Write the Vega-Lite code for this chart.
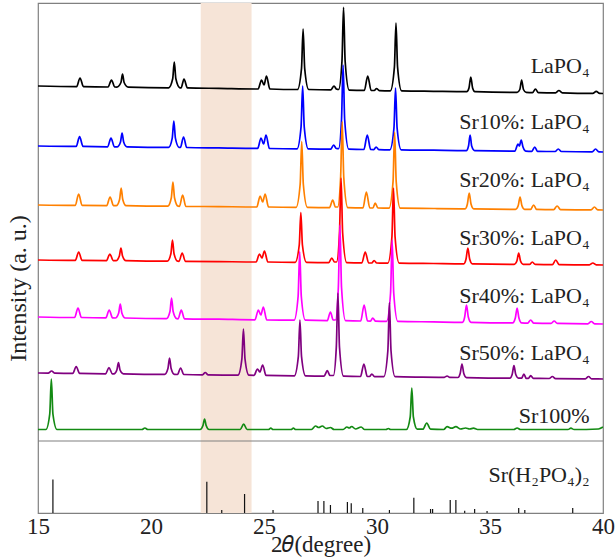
{
"$schema": "https://vega.github.io/schema/vega-lite/v6.json",
"width": 565, "height": 510,
"autosize": {"type": "none"},
"padding": {"left": 38, "top": 3, "right": 13, "bottom": 45},
"background": "white",
"datasets": {
"series": [
{"s":"LaPO4","x":15,"y":355},{"s":"LaPO4","x":16.71,"y":354.4},{"s":"LaPO4","x":16.86,"y":363},{"s":"LaPO4","x":17.01,"y":354.4},
{"s":"LaPO4","x":18.1,"y":354},{"s":"LaPO4","x":18.25,"y":361},{"s":"LaPO4","x":18.4,"y":354},
{"s":"LaPO4","x":18.49,"y":353.9},{"s":"LaPO4","x":18.67,"y":358.5},{"s":"LaPO4","x":18.74,"y":367},{"s":"LaPO4","x":18.81,"y":358.5},{"s":"LaPO4","x":18.99,"y":353.9},
{"s":"LaPO4","x":20.78,"y":353.2},{"s":"LaPO4","x":20.96,"y":362.2},{"s":"LaPO4","x":21.03,"y":379},{"s":"LaPO4","x":21.1,"y":362.2},{"s":"LaPO4","x":21.28,"y":353.2},
{"s":"LaPO4","x":21.33,"y":353.1},{"s":"LaPO4","x":21.46,"y":362},{"s":"LaPO4","x":21.61,"y":353.1},
{"s":"LaPO4","x":23,"y":352.6},
{"s":"LaPO4","x":24.74,"y":352},{"s":"LaPO4","x":24.89,"y":361},{"s":"LaPO4","x":25.0,"y":356},{"s":"LaPO4","x":25.11,"y":365},{"s":"LaPO4","x":25.26,"y":352},
{"s":"LaPO4","x":26.48,"y":351.5},{"s":"LaPO4","x":26.66,"y":372.7},{"s":"LaPO4","x":26.73,"y":412},{"s":"LaPO4","x":26.8,"y":372.7},{"s":"LaPO4","x":26.98,"y":351.5},
{"s":"LaPO4","x":27.95,"y":351.1},{"s":"LaPO4","x":28.1,"y":355},{"s":"LaPO4","x":28.2,"y":352},
{"s":"LaPO4","x":28.3,"y":351.5},{"s":"LaPO4","x":28.45,"y":379.9},{"s":"LaPO4","x":28.52,"y":433.7},{"s":"LaPO4","x":28.59,"y":379.9},{"s":"LaPO4","x":28.77,"y":350.9},
{"s":"LaPO4","x":29.44,"y":350.6},{"s":"LaPO4","x":29.59,"y":365},{"s":"LaPO4","x":29.74,"y":350.6},
{"s":"LaPO4","x":29.88,"y":350.5},{"s":"LaPO4","x":29.98,"y":352.5},{"s":"LaPO4","x":30.1,"y":350.4},
{"s":"LaPO4","x":30.59,"y":350.2},{"s":"LaPO4","x":30.77,"y":373.9},{"s":"LaPO4","x":30.84,"y":418},{"s":"LaPO4","x":30.91,"y":373.9},{"s":"LaPO4","x":31.09,"y":350.2},
{"s":"LaPO4","x":32.5,"y":349.7},
{"s":"LaPO4","x":33.97,"y":349.3},{"s":"LaPO4","x":34.07,"y":353},{"s":"LaPO4","x":34.15,"y":364},{"s":"LaPO4","x":34.23,"y":353},{"s":"LaPO4","x":34.33,"y":349.3},
{"s":"LaPO4","x":36.2,"y":348.6},{"s":"LaPO4","x":36.32,"y":351.5},{"s":"LaPO4","x":36.4,"y":361},{"s":"LaPO4","x":36.48,"y":351.5},{"s":"LaPO4","x":36.6,"y":348.6},
{"s":"LaPO4","x":36.88,"y":348.4},{"s":"LaPO4","x":37.01,"y":352},{"s":"LaPO4","x":37.14,"y":348.4},
{"s":"LaPO4","x":37.9,"y":348.1},{"s":"LaPO4","x":38.05,"y":350.5},{"s":"LaPO4","x":38.2,"y":348.1},
{"s":"LaPO4","x":39.55,"y":347.6},{"s":"LaPO4","x":39.7,"y":349.7},{"s":"LaPO4","x":39.85,"y":347.6},{"s":"LaPO4","x":40,"y":347.5},

{"s":"Sr10","x":15,"y":295},{"s":"Sr10","x":16.69,"y":294.6},{"s":"Sr10","x":16.84,"y":304.3},{"s":"Sr10","x":16.99,"y":294.6},
{"s":"Sr10","x":18.08,"y":294.2},{"s":"Sr10","x":18.23,"y":303},{"s":"Sr10","x":18.38,"y":294.2},
{"s":"Sr10","x":18.5,"y":294.1},{"s":"Sr10","x":18.65,"y":299},{"s":"Sr10","x":18.72,"y":308},{"s":"Sr10","x":18.79,"y":299},{"s":"Sr10","x":18.94,"y":294.1},
{"s":"Sr10","x":20.78,"y":293.6},{"s":"Sr10","x":20.94,"y":302.8},{"s":"Sr10","x":21.01,"y":320},{"s":"Sr10","x":21.08,"y":302.8},{"s":"Sr10","x":21.24,"y":293.6},
{"s":"Sr10","x":21.3,"y":293.5},{"s":"Sr10","x":21.44,"y":304},{"s":"Sr10","x":21.58,"y":293.5},
{"s":"Sr10","x":23,"y":293.1},
{"s":"Sr10","x":24.72,"y":292.6},{"s":"Sr10","x":24.87,"y":303},{"s":"Sr10","x":24.98,"y":297},{"s":"Sr10","x":25.09,"y":306},{"s":"Sr10","x":25.24,"y":292.5},
{"s":"Sr10","x":26.46,"y":292.2},{"s":"Sr10","x":26.64,"y":314.2},{"s":"Sr10","x":26.71,"y":355},{"s":"Sr10","x":26.78,"y":314.2},{"s":"Sr10","x":26.96,"y":292.2},
{"s":"Sr10","x":27.95,"y":291.9},{"s":"Sr10","x":28.08,"y":296},{"s":"Sr10","x":28.2,"y":292.5},
{"s":"Sr10","x":28.3,"y":292.3},{"s":"Sr10","x":28.43,"y":321.2},{"s":"Sr10","x":28.5,"y":376},{"s":"Sr10","x":28.57,"y":321.2},{"s":"Sr10","x":28.75,"y":291.8},
{"s":"Sr10","x":29.42,"y":291.5},{"s":"Sr10","x":29.57,"y":306},{"s":"Sr10","x":29.72,"y":291.5},
{"s":"Sr10","x":29.86,"y":291.4},{"s":"Sr10","x":29.96,"y":294},{"s":"Sr10","x":30.08,"y":291.4},
{"s":"Sr10","x":30.57,"y":291.2},{"s":"Sr10","x":30.75,"y":312.8},{"s":"Sr10","x":30.82,"y":353},{"s":"Sr10","x":30.89,"y":312.8},{"s":"Sr10","x":31.07,"y":291.2},
{"s":"Sr10","x":32.5,"y":290.8},
{"s":"Sr10","x":33.95,"y":290.4},{"s":"Sr10","x":34.05,"y":295},{"s":"Sr10","x":34.12,"y":306},{"s":"Sr10","x":34.19,"y":295},{"s":"Sr10","x":34.32,"y":290.4},
{"s":"Sr10","x":36.1,"y":289.9},{"s":"Sr10","x":36.24,"y":297},{"s":"Sr10","x":36.3,"y":295},{"s":"Sr10","x":36.38,"y":301},{"s":"Sr10","x":36.46,"y":294},{"s":"Sr10","x":36.58,"y":289.9},
{"s":"Sr10","x":36.85,"y":289.7},{"s":"Sr10","x":36.98,"y":294},{"s":"Sr10","x":37.1,"y":289.7},
{"s":"Sr10","x":37.88,"y":289.5},{"s":"Sr10","x":38.02,"y":292},{"s":"Sr10","x":38.16,"y":289.5},
{"s":"Sr10","x":39.52,"y":289.1},{"s":"Sr10","x":39.67,"y":292},{"s":"Sr10","x":39.82,"y":289.1},{"s":"Sr10","x":40,"y":289},

{"s":"Sr20","x":15,"y":236},{"s":"Sr20","x":16.65,"y":235.6},{"s":"Sr20","x":16.8,"y":247},{"s":"Sr20","x":16.95,"y":235.6},
{"s":"Sr20","x":18.04,"y":235.4},{"s":"Sr20","x":18.19,"y":244},{"s":"Sr20","x":18.34,"y":235.4},
{"s":"Sr20","x":18.46,"y":235.3},{"s":"Sr20","x":18.61,"y":241.5},{"s":"Sr20","x":18.68,"y":253},{"s":"Sr20","x":18.75,"y":241.5},{"s":"Sr20","x":18.9,"y":235.3},
{"s":"Sr20","x":20.74,"y":234.8},{"s":"Sr20","x":20.9,"y":243.3},{"s":"Sr20","x":20.97,"y":259},{"s":"Sr20","x":21.04,"y":243.3},{"s":"Sr20","x":21.2,"y":234.8},
{"s":"Sr20","x":21.26,"y":234.7},{"s":"Sr20","x":21.4,"y":246},{"s":"Sr20","x":21.54,"y":234.7},
{"s":"Sr20","x":23,"y":234.4},
{"s":"Sr20","x":24.68,"y":234},{"s":"Sr20","x":24.83,"y":245},{"s":"Sr20","x":24.94,"y":239},{"s":"Sr20","x":25.05,"y":247},{"s":"Sr20","x":25.2,"y":234},
{"s":"Sr20","x":26.42,"y":233.7},{"s":"Sr20","x":26.6,"y":256.7},{"s":"Sr20","x":26.67,"y":299.3},{"s":"Sr20","x":26.74,"y":256.7},{"s":"Sr20","x":26.92,"y":233.7},
{"s":"Sr20","x":27.9,"y":233.4},{"s":"Sr20","x":28.04,"y":241},{"s":"Sr20","x":28.16,"y":234},
{"s":"Sr20","x":28.26,"y":234},{"s":"Sr20","x":28.39,"y":263.4},{"s":"Sr20","x":28.46,"y":319.3},{"s":"Sr20","x":28.53,"y":263.4},{"s":"Sr20","x":28.71,"y":233.3},
{"s":"Sr20","x":29.38,"y":233.1},{"s":"Sr20","x":29.53,"y":249},{"s":"Sr20","x":29.68,"y":233.1},
{"s":"Sr20","x":29.82,"y":233},{"s":"Sr20","x":29.92,"y":238},{"s":"Sr20","x":30.04,"y":233},
{"s":"Sr20","x":30.53,"y":232.8},{"s":"Sr20","x":30.71,"y":259.4},{"s":"Sr20","x":30.78,"y":309},{"s":"Sr20","x":30.85,"y":259.4},{"s":"Sr20","x":31.03,"y":232.8},
{"s":"Sr20","x":32.5,"y":232.5},
{"s":"Sr20","x":33.9,"y":232.2},{"s":"Sr20","x":34.0,"y":237},{"s":"Sr20","x":34.08,"y":248},{"s":"Sr20","x":34.16,"y":237},{"s":"Sr20","x":34.28,"y":232.2},
{"s":"Sr20","x":36.13,"y":231.7},{"s":"Sr20","x":36.25,"y":235.5},{"s":"Sr20","x":36.33,"y":244},{"s":"Sr20","x":36.41,"y":235.5},{"s":"Sr20","x":36.53,"y":231.7},
{"s":"Sr20","x":36.8,"y":231.6},{"s":"Sr20","x":36.93,"y":236},{"s":"Sr20","x":37.06,"y":231.6},
{"s":"Sr20","x":37.82,"y":231.4},{"s":"Sr20","x":37.97,"y":235},{"s":"Sr20","x":38.12,"y":231.4},
{"s":"Sr20","x":39.47,"y":231.1},{"s":"Sr20","x":39.62,"y":234},{"s":"Sr20","x":39.77,"y":231.1},{"s":"Sr20","x":40,"y":231},

{"s":"Sr30","x":15,"y":181},{"s":"Sr30","x":16.65,"y":180.6},{"s":"Sr30","x":16.8,"y":189},{"s":"Sr30","x":16.95,"y":180.6},
{"s":"Sr30","x":18.03,"y":180.4},{"s":"Sr30","x":18.18,"y":187},{"s":"Sr30","x":18.33,"y":180.4},
{"s":"Sr30","x":18.45,"y":180.3},{"s":"Sr30","x":18.6,"y":185},{"s":"Sr30","x":18.67,"y":193},{"s":"Sr30","x":18.74,"y":185},{"s":"Sr30","x":18.89,"y":180.3},
{"s":"Sr30","x":20.72,"y":179.8},{"s":"Sr30","x":20.88,"y":187.2},{"s":"Sr30","x":20.95,"y":201},{"s":"Sr30","x":21.02,"y":187.2},{"s":"Sr30","x":21.18,"y":179.8},
{"s":"Sr30","x":21.24,"y":179.7},{"s":"Sr30","x":21.38,"y":188},{"s":"Sr30","x":21.52,"y":179.7},
{"s":"Sr30","x":23,"y":179.4},
{"s":"Sr30","x":24.65,"y":179},{"s":"Sr30","x":24.8,"y":187},{"s":"Sr30","x":24.91,"y":183},{"s":"Sr30","x":25.02,"y":190},{"s":"Sr30","x":25.17,"y":179},
{"s":"Sr30","x":26.38,"y":178.7},{"s":"Sr30","x":26.56,"y":196},{"s":"Sr30","x":26.63,"y":228.3},{"s":"Sr30","x":26.7,"y":196},{"s":"Sr30","x":26.88,"y":178.7},
{"s":"Sr30","x":27.86,"y":178.4},{"s":"Sr30","x":28.0,"y":183},{"s":"Sr30","x":28.12,"y":179},
{"s":"Sr30","x":28.21,"y":179},{"s":"Sr30","x":28.34,"y":208},{"s":"Sr30","x":28.41,"y":263},{"s":"Sr30","x":28.48,"y":208},{"s":"Sr30","x":28.66,"y":178.3},
{"s":"Sr30","x":29.33,"y":178.1},{"s":"Sr30","x":29.48,"y":189},{"s":"Sr30","x":29.63,"y":178.1},
{"s":"Sr30","x":29.77,"y":178},{"s":"Sr30","x":29.87,"y":180.5},{"s":"Sr30","x":29.99,"y":178},
{"s":"Sr30","x":30.48,"y":177.9},{"s":"Sr30","x":30.66,"y":204},{"s":"Sr30","x":30.73,"y":253},{"s":"Sr30","x":30.8,"y":204},{"s":"Sr30","x":30.98,"y":177.9},
{"s":"Sr30","x":32.5,"y":177.5},
{"s":"Sr30","x":33.84,"y":177.2},{"s":"Sr30","x":33.94,"y":182},{"s":"Sr30","x":34.02,"y":193},{"s":"Sr30","x":34.1,"y":182},{"s":"Sr30","x":34.22,"y":177.2},
{"s":"Sr30","x":36.07,"y":176.7},{"s":"Sr30","x":36.19,"y":180},{"s":"Sr30","x":36.27,"y":188},{"s":"Sr30","x":36.35,"y":180},{"s":"Sr30","x":36.47,"y":176.7},
{"s":"Sr30","x":36.75,"y":176.6},{"s":"Sr30","x":36.87,"y":179},{"s":"Sr30","x":37.0,"y":176.6},
{"s":"Sr30","x":37.76,"y":176.4},{"s":"Sr30","x":37.91,"y":181},{"s":"Sr30","x":38.06,"y":176.4},
{"s":"Sr30","x":39.4,"y":176.1},{"s":"Sr30","x":39.55,"y":178},{"s":"Sr30","x":39.7,"y":176.1},{"s":"Sr30","x":40,"y":176},

{"s":"Sr40","x":15,"y":124},{"s":"Sr40","x":16.62,"y":123.5},{"s":"Sr40","x":16.77,"y":133},{"s":"Sr40","x":16.92,"y":123.5},
{"s":"Sr40","x":18.0,"y":123.1},{"s":"Sr40","x":18.15,"y":131},{"s":"Sr40","x":18.3,"y":123.1},
{"s":"Sr40","x":18.42,"y":123},{"s":"Sr40","x":18.57,"y":128},{"s":"Sr40","x":18.64,"y":137},{"s":"Sr40","x":18.71,"y":128},{"s":"Sr40","x":18.86,"y":123},
{"s":"Sr40","x":20.68,"y":122.3},{"s":"Sr40","x":20.84,"y":129.5},{"s":"Sr40","x":20.91,"y":143},{"s":"Sr40","x":20.98,"y":129.5},{"s":"Sr40","x":21.14,"y":122.3},
{"s":"Sr40","x":21.2,"y":122.2},{"s":"Sr40","x":21.34,"y":131},{"s":"Sr40","x":21.48,"y":122.2},
{"s":"Sr40","x":23,"y":121.8},
{"s":"Sr40","x":24.6,"y":121.2},{"s":"Sr40","x":24.75,"y":131},{"s":"Sr40","x":24.86,"y":126},{"s":"Sr40","x":24.97,"y":134},{"s":"Sr40","x":25.12,"y":121.2},
{"s":"Sr40","x":26.33,"y":120.8},{"s":"Sr40","x":26.51,"y":144.8},{"s":"Sr40","x":26.58,"y":189.3},{"s":"Sr40","x":26.65,"y":144.8},{"s":"Sr40","x":26.83,"y":120.8},
{"s":"Sr40","x":27.8,"y":120.4},{"s":"Sr40","x":27.94,"y":129},{"s":"Sr40","x":28.06,"y":121},
{"s":"Sr40","x":28.16,"y":121},{"s":"Sr40","x":28.29,"y":153.8},{"s":"Sr40","x":28.36,"y":216},{"s":"Sr40","x":28.43,"y":153.8},{"s":"Sr40","x":28.61,"y":120.3},
{"s":"Sr40","x":29.28,"y":120},{"s":"Sr40","x":29.43,"y":136},{"s":"Sr40","x":29.58,"y":120},
{"s":"Sr40","x":29.71,"y":119.9},{"s":"Sr40","x":29.81,"y":123},{"s":"Sr40","x":29.93,"y":119.9},
{"s":"Sr40","x":30.42,"y":119.6},{"s":"Sr40","x":30.6,"y":148},{"s":"Sr40","x":30.67,"y":201},{"s":"Sr40","x":30.74,"y":148},{"s":"Sr40","x":30.92,"y":119.6},
{"s":"Sr40","x":32.5,"y":119.1},
{"s":"Sr40","x":33.78,"y":118.7},{"s":"Sr40","x":33.88,"y":124},{"s":"Sr40","x":33.96,"y":136},{"s":"Sr40","x":34.04,"y":124},{"s":"Sr40","x":34.16,"y":118.7},
{"s":"Sr40","x":36.0,"y":118.1},{"s":"Sr40","x":36.12,"y":123},{"s":"Sr40","x":36.2,"y":133},{"s":"Sr40","x":36.28,"y":123},{"s":"Sr40","x":36.4,"y":118.1},
{"s":"Sr40","x":36.67,"y":117.9},{"s":"Sr40","x":36.8,"y":121},{"s":"Sr40","x":36.93,"y":117.9},
{"s":"Sr40","x":37.7,"y":117.6},{"s":"Sr40","x":37.84,"y":120},{"s":"Sr40","x":37.98,"y":117.6},
{"s":"Sr40","x":39.33,"y":117.2},{"s":"Sr40","x":39.48,"y":119.5},{"s":"Sr40","x":39.63,"y":117.2},{"s":"Sr40","x":40,"y":117},

{"s":"Sr50","x":15,"y":68},{"s":"Sr50","x":15.45,"y":67.9},{"s":"Sr50","x":15.6,"y":70},{"s":"Sr50","x":15.75,"y":67.8},
{"s":"Sr50","x":16.54,"y":67.6},{"s":"Sr50","x":16.69,"y":74.3},{"s":"Sr50","x":16.84,"y":67.6},
{"s":"Sr50","x":17.99,"y":67.2},{"s":"Sr50","x":18.14,"y":73.3},{"s":"Sr50","x":18.29,"y":67.2},
{"s":"Sr50","x":18.36,"y":67.1},{"s":"Sr50","x":18.49,"y":71},{"s":"Sr50","x":18.56,"y":78.3},{"s":"Sr50","x":18.63,"y":71},{"s":"Sr50","x":18.78,"y":67.1},
{"s":"Sr50","x":20.6,"y":66.6},{"s":"Sr50","x":20.75,"y":72.5},{"s":"Sr50","x":20.82,"y":83},{"s":"Sr50","x":20.89,"y":72.5},{"s":"Sr50","x":21.04,"y":66.6},
{"s":"Sr50","x":21.17,"y":66.5},{"s":"Sr50","x":21.31,"y":73},{"s":"Sr50","x":21.45,"y":66.5},
{"s":"Sr50","x":22.28,"y":66.2},{"s":"Sr50","x":22.4,"y":68.5},{"s":"Sr50","x":22.52,"y":66.2},
{"s":"Sr50","x":23.85,"y":65.8},{"s":"Sr50","x":24.02,"y":81.8},{"s":"Sr50","x":24.09,"y":112},{"s":"Sr50","x":24.16,"y":81.8},{"s":"Sr50","x":24.33,"y":65.8},
{"s":"Sr50","x":24.56,"y":65.7},{"s":"Sr50","x":24.71,"y":72},{"s":"Sr50","x":24.82,"y":69},{"s":"Sr50","x":24.94,"y":76},{"s":"Sr50","x":25.09,"y":65.6},
{"s":"Sr50","x":26.34,"y":65.2},{"s":"Sr50","x":26.52,"y":84.7},{"s":"Sr50","x":26.59,"y":121},{"s":"Sr50","x":26.66,"y":84.7},{"s":"Sr50","x":26.84,"y":65.2},
{"s":"Sr50","x":27.66,"y":64.9},{"s":"Sr50","x":27.8,"y":70.3},{"s":"Sr50","x":27.92,"y":65.5},
{"s":"Sr50","x":28.07,"y":65.5},{"s":"Sr50","x":28.2,"y":93.9},{"s":"Sr50","x":28.27,"y":148},{"s":"Sr50","x":28.34,"y":93.9},{"s":"Sr50","x":28.52,"y":64.8},
{"s":"Sr50","x":29.27,"y":64.5},{"s":"Sr50","x":29.42,"y":77},{"s":"Sr50","x":29.57,"y":64.5},
{"s":"Sr50","x":29.67,"y":64.5},{"s":"Sr50","x":29.77,"y":67},{"s":"Sr50","x":29.89,"y":64.4},
{"s":"Sr50","x":30.3,"y":64.3},{"s":"Sr50","x":30.48,"y":90.2},{"s":"Sr50","x":30.55,"y":138.3},{"s":"Sr50","x":30.62,"y":90.2},{"s":"Sr50","x":30.8,"y":64.3},
{"s":"Sr50","x":32,"y":63.9},
{"s":"Sr50","x":32.98,"y":63.7},{"s":"Sr50","x":33.1,"y":65},{"s":"Sr50","x":33.22,"y":63.6},
{"s":"Sr50","x":33.58,"y":63.5},{"s":"Sr50","x":33.68,"y":67.5},{"s":"Sr50","x":33.76,"y":77},{"s":"Sr50","x":33.84,"y":67.5},{"s":"Sr50","x":33.96,"y":63.4},
{"s":"Sr50","x":35.88,"y":62.9},{"s":"Sr50","x":35.98,"y":66.5},{"s":"Sr50","x":36.06,"y":75.3},{"s":"Sr50","x":36.14,"y":66.5},{"s":"Sr50","x":36.26,"y":62.9},
{"s":"Sr50","x":36.4,"y":62.8},{"s":"Sr50","x":36.5,"y":67},{"s":"Sr50","x":36.6,"y":62.7},
{"s":"Sr50","x":36.7,"y":62.7},{"s":"Sr50","x":36.8,"y":65.3},{"s":"Sr50","x":36.92,"y":62.6},
{"s":"Sr50","x":37.62,"y":62.5},{"s":"Sr50","x":37.76,"y":64.5},{"s":"Sr50","x":37.9,"y":62.4},
{"s":"Sr50","x":39.22,"y":62.2},{"s":"Sr50","x":39.36,"y":64.5},{"s":"Sr50","x":39.5,"y":62.1},{"s":"Sr50","x":40,"y":62},

{"s":"Sr100","x":15,"y":11.5},{"s":"Sr100","x":15.35,"y":11.5},{"s":"Sr100","x":15.52,"y":27},{"s":"Sr100","x":15.59,"y":62},{"s":"Sr100","x":15.66,"y":27},{"s":"Sr100","x":15.84,"y":11.5},
{"s":"Sr100","x":19.6,"y":11.5},{"s":"Sr100","x":19.73,"y":13},{"s":"Sr100","x":19.86,"y":11.5},
{"s":"Sr100","x":22.17,"y":11.5},{"s":"Sr100","x":22.3,"y":15.5},{"s":"Sr100","x":22.37,"y":22},{"s":"Sr100","x":22.44,"y":15.5},{"s":"Sr100","x":22.57,"y":11.5},
{"s":"Sr100","x":23.95,"y":11.5},{"s":"Sr100","x":24.1,"y":17},{"s":"Sr100","x":24.25,"y":11.5},
{"s":"Sr100","x":25.2,"y":11.5},{"s":"Sr100","x":25.3,"y":12.8},{"s":"Sr100","x":25.4,"y":11.5},
{"s":"Sr100","x":26.2,"y":11.5},{"s":"Sr100","x":26.3,"y":12.8},{"s":"Sr100","x":26.4,"y":11.5},
{"s":"Sr100","x":27.1,"y":11.5},{"s":"Sr100","x":27.28,"y":15},{"s":"Sr100","x":27.42,"y":13.5},{"s":"Sr100","x":27.58,"y":15},{"s":"Sr100","x":27.75,"y":12.5},{"s":"Sr100","x":27.94,"y":13.5},{"s":"Sr100","x":28.1,"y":11.5},
{"s":"Sr100","x":28.5,"y":11.5},{"s":"Sr100","x":28.67,"y":14},{"s":"Sr100","x":28.77,"y":13},{"s":"Sr100","x":28.88,"y":14.5},{"s":"Sr100","x":29.05,"y":12},{"s":"Sr100","x":29.3,"y":14},{"s":"Sr100","x":29.45,"y":11.5},
{"s":"Sr100","x":30.4,"y":11.5},{"s":"Sr100","x":30.5,"y":12.5},{"s":"Sr100","x":30.6,"y":11.5},
{"s":"Sr100","x":31.3,"y":11.5},{"s":"Sr100","x":31.47,"y":24},{"s":"Sr100","x":31.54,"y":53},{"s":"Sr100","x":31.61,"y":24},{"s":"Sr100","x":31.78,"y":11.8},
{"s":"Sr100","x":32.03,"y":11.8},{"s":"Sr100","x":32.2,"y":18},{"s":"Sr100","x":32.37,"y":11.8},
{"s":"Sr100","x":32.95,"y":11.5},{"s":"Sr100","x":33.1,"y":14.3},{"s":"Sr100","x":33.3,"y":12.8},{"s":"Sr100","x":33.49,"y":14.3},{"s":"Sr100","x":33.7,"y":12},{"s":"Sr100","x":33.92,"y":13},{"s":"Sr100","x":34.1,"y":12},{"s":"Sr100","x":34.27,"y":12.8},{"s":"Sr100","x":34.45,"y":11.5},
{"s":"Sr100","x":36.05,"y":11.5},{"s":"Sr100","x":36.2,"y":13},{"s":"Sr100","x":36.35,"y":11.5},
{"s":"Sr100","x":38.45,"y":11.5},{"s":"Sr100","x":38.58,"y":12.8},{"s":"Sr100","x":38.72,"y":11.5},
{"s":"Sr100","x":39.8,"y":12},{"s":"Sr100","x":40,"y":14}
],
"labels": [
{"label":"LaPO₄","x":39.41,"y":375},
{"label":"Sr10%: LaPO₄","x":39.41,"y":319},
{"label":"Sr20%: LaPO₄","x":39.41,"y":261},
{"label":"Sr30%: LaPO₄","x":39.41,"y":203},
{"label":"Sr40%: LaPO₄","x":39.41,"y":145},
{"label":"Sr50%: LaPO₄","x":39.41,"y":88},
{"label":"Sr100%","x":39.41,"y":25}
],
"sticks": [
{"x":15.66,"h":33.5},{"x":22.47,"h":31.3},{"x":23.13,"h":3},{"x":24.14,"h":19},{"x":25.4,"h":3},
{"x":27.39,"h":12},{"x":27.65,"h":12},{"x":27.94,"h":8},{"x":28.69,"h":11},{"x":28.86,"h":9.7},
{"x":29.37,"h":5},{"x":30.55,"h":3},{"x":31.63,"h":15.3},{"x":32.37,"h":4},{"x":32.46,"h":4},
{"x":33.24,"h":13},{"x":33.49,"h":13},{"x":33.88,"h":2.3},{"x":34.32,"h":4},{"x":34.87,"h":2},
{"x":36.27,"h":5},{"x":36.54,"h":3},{"x":38.66,"h":5}
]
},
"layer": [
{
"data": {"values": [{"start": 22.2, "end": 24.45}]},
"mark": {"type": "rect", "color": "#F6E4D7"},
"encoding": {
"x": {"field": "start", "type": "quantitative", "scale": {"domain": [15, 40], "nice": false, "zero": false}, "title": "2𝜃(degree)", "axis": {"values": [15, 20, 25, 30, 35, 40]}},
"x2": {"field": "end"}
}
},
{
"layer": [
{
"data": {"name": "series"},
"mark": {"type": "line", "strokeWidth": 1.7, "clip": true, "interpolate": "monotone"},
"encoding": {
"x": {"field": "x", "type": "quantitative", "scale": {"domain": [15, 40], "nice": false, "zero": false}, "title": "2𝜃(degree)", "axis": {"values": [15, 20, 25, 30, 35, 40]}},
"y": {"field": "y", "type": "quantitative", "scale": {"domain": [-72, 438], "nice": false, "zero": false}, "title": "Intensity (a. u.)"},
"color": {"field": "s", "type": "nominal", "legend": null,
"scale": {"domain": ["LaPO4","Sr10","Sr20","Sr30","Sr40","Sr50","Sr100"], "range": ["#000000","#0000FF","#FF8000","#FF0000","#FF00FF","#800080","#138A13"]}}
}
},
{
"data": {"name": "labels"},
"mark": {"type": "text", "align": "right", "baseline": "middle", "font": "Liberation Serif", "fontSize": 22, "color": "#222222"},
"encoding": {
"x": {"field": "x", "type": "quantitative", "title": "2𝜃(degree)", "axis": {"values": [15, 20, 25, 30, 35, 40]}},
"y": {"field": "y", "type": "quantitative", "title": "Intensity (a. u.)"},
"text": {"field": "label"}
}
},
{
"data": {"values": [{"v": 0}]},
"mark": {"type": "rule", "color": "#808080", "strokeWidth": 1.2},
"encoding": {
"y": {"field": "v", "type": "quantitative", "title": "Intensity (a. u.)"}
}
}
]
},
{
"layer": [
{
"data": {"name": "sticks"},
"mark": {"type": "rule", "color": "#111111", "strokeWidth": 1.2},
"encoding": {
"x": {"field": "x", "type": "quantitative", "title": "2𝜃(degree)", "axis": {"values": [15, 20, 25, 30, 35, 40]}},
"y": {"field": "h", "type": "quantitative", "scale": {"domain": [0, 510], "nice": false, "zero": false}, "axis": null},
"y2": {"datum": 0}
}
},
{
"data": {"values": [{"label": "Sr(H₂PO₄)₂", "x": 39.41, "h": 38}]},
"mark": {"type": "text", "align": "right", "baseline": "middle", "font": "Liberation Serif", "fontSize": 22, "color": "#222222"},
"encoding": {
"x": {"field": "x", "type": "quantitative", "title": "2𝜃(degree)", "axis": {"values": [15, 20, 25, 30, 35, 40]}},
"y": {"field": "h", "type": "quantitative", "axis": null},
"text": {"field": "label"}
}
}
]
}
],
"resolve": {"scale": {"y": "independent"}, "axis": {"y": "independent"}},
"config": {
"view": {"stroke": "#808080", "strokeWidth": 1.2},
"axisX": {"domain": false, "ticks": false, "grid": false, "format": "d",
"labelFont": "Liberation Serif", "labelFontSize": 23, "labelColor": "#222222", "labelPadding": 2, "labelFlush": false, "labelOverlap": false, "labelBound": false,
"titleFont": "Liberation Serif", "titleFontSize": 23, "titleFontWeight": "normal", "titleColor": "#222222", "titlePadding": -5},
"axisY": {"domain": false, "ticks": false, "grid": false, "labels": false,
"titleFont": "Liberation Serif", "titleFontSize": 24, "titleFontWeight": "normal", "titleColor": "#222222",
"titleX": -20, "titleY": 285, "titleAngle": 270, "titleAlign": "center", "titleBaseline": "middle"}
}
}
